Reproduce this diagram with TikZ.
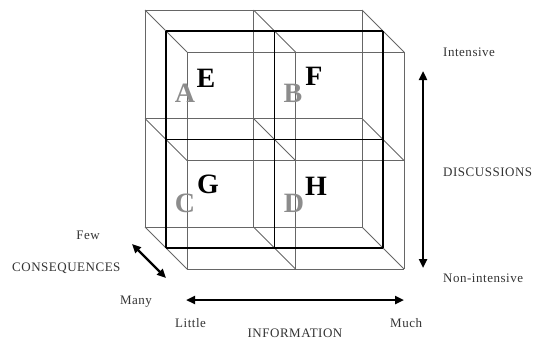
\documentclass[tikz,border=0pt]{standalone}
\usepackage{fontspec}
\setmainfont{Liberation Serif}
\newfontfamily\wideserif[LetterSpace=4]{Liberation Serif}
\usetikzlibrary{arrows.meta}
\begin{document}
\begin{tikzpicture}[x=1pt,y=-1pt,
  thinline/.style={draw=black!60, line width=0.8pt},
  midline/.style={draw=black, line width=1.6pt},
  axis/.style={line width=2.4pt, {Triangle[length=9pt,width=8pt]}-{Triangle[length=9pt,width=8pt]}},
  lbl/.style={font=\wideserif\fontsize{13}{15}\selectfont, inner sep=0pt, text=black!80},
  glet/.style={font=\fontsize{28}{30}\selectfont\bfseries, text=black!45, inner sep=0pt, anchor=base},
  blet/.style={font=\fontsize{28}{30}\selectfont\bfseries, text=black, inner sep=0pt, anchor=base}]
\useasboundingbox (0,0) rectangle (535,340);
% back and front planes
\foreach \o in {0,42}{
  \foreach \x in {145,253.5,362}{
    \draw[thinline] (\x+\o,10+\o) -- (\x+\o,227+\o);
  }
  \foreach \y in {10,118.5,227}{
    \draw[thinline] (145+\o,\y+\o) -- (362+\o,\y+\o);
  }
}
% depth diagonals
\foreach \x in {145,253.5,362}{
  \foreach \y in {10,118.5,227}{
    \draw[thinline] (\x,\y) -- (\x+42,\y+42);
  }
}
% middle plane
\foreach \x in {166,274.5,383}{
  \draw[midline] (\x,31) -- (\x,248);
}
\foreach \y in {31,139.5,248}{
  \draw[midline] (166,\y) -- (383,\y);
}
% letters
\node[glet] (A) at (185,102) {A};
\node[blet] (E) at (206,87) {E};
\node[glet] (B) at (293,102) {B};
\node[blet] (F) at (314,85) {F};
\node[glet] (C) at (185,212) {C};
\node[blet] (G) at (208,193) {G};
\node[glet] (D) at (294,212) {D};
\node[blet] (H) at (316,195) {H};
% axes
\coordinate (vt) at (423,71);
\coordinate (vb) at (423,268);
\coordinate (hl) at (186,300);
\coordinate (hr) at (404,300);
\coordinate (dl) at (132,244);
\coordinate (dr) at (166,278);
\draw[axis] (vt) -- (vb);
\draw[axis] (hl) -- (hr);
\draw[axis] (dl) -- (dr);
% labels
\node[lbl, anchor=west] (int) at (443,52) {Intensive};
\node[lbl, anchor=west] (disc) at (443,172) {DISCUSSIONS};
\node[lbl, anchor=west] (nonint) at (443,278) {Non-intensive};
\node[lbl] (few) at (88,235) {Few};
\node[lbl, anchor=west] (cons) at (12,268) {CONSEQUENCES};
\node[lbl] (many) at (136,302) {Many};
\node[lbl, anchor=west] (little) at (175,323) {Little};
\node[lbl] (info) at (295,333) {INFORMATION};
\node[lbl, anchor=west] (much) at (390,323) {Much};
\end{tikzpicture}
\end{document}
